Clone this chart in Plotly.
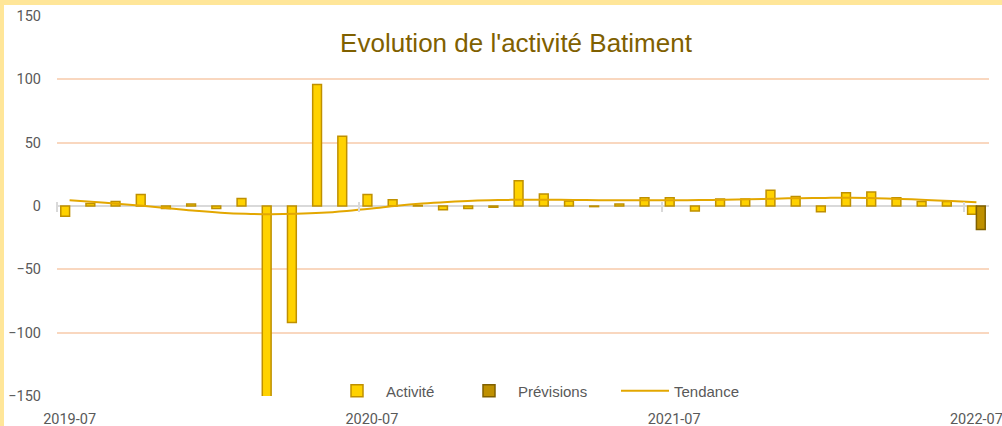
import plotly.graph_objects as go

# Monthly building-activity index variation (Jul 2019 - Jul 2022)
months = [
    "2019-07", "2019-08", "2019-09", "2019-10", "2019-11", "2019-12",
    "2020-01", "2020-02", "2020-03", "2020-04", "2020-05", "2020-06",
    "2020-07", "2020-08", "2020-09", "2020-10", "2020-11", "2020-12",
    "2021-01", "2021-02", "2021-03", "2021-04", "2021-05", "2021-06",
    "2021-07", "2021-08", "2021-09", "2021-10", "2021-11", "2021-12",
    "2022-01", "2022-02", "2022-03", "2022-04", "2022-05", "2022-06",
    "2022-07",
]
activite = [
    -8, 2, 3.5, 9, -2, 1.5, -2, 6, -152, -92, 96, 55,
    9, 5, 0.5, -3, -2, -1, 20, 9.5, 4, -0.5, 1.5, 6.5,
    6.5, -4, 5.5, 5.5, 12.5, 7.5, -4.5, 10.5, 11, 6.5, 3.5, 3.5,
    -6.5,
]
previsions = [None] * 36 + [-18.5]
tendance = [
    4.5, 3.1, 1.6, 0.0, -1.9, -3.8, -5.3, -6.2, -6.5, -6.2, -5.4, -3.9,
    -2.0, 0.2, 1.9, 3.2, 4.2, 4.7, 4.9, 4.9, 4.8, 4.6, 4.5, 4.5,
    4.5, 4.7, 5.0, 5.4, 5.8, 6.2, 6.4, 6.5, 6.2, 5.6, 4.8, 3.9,
    2.9,
]
y_ticks = [-150, -100, -50, 0, 50, 100, 150]

W, H = 1002, 426
L, R, T, B = 57, 13, 16, 30
pw, ph = W - L - R, H - T - B

label_font = dict(family="Roboto", size=14.5, color="#595959")
legend_font = dict(family="Liberation Sans", size=15, color="#595959")

fig = go.Figure()
fig.add_trace(go.Bar(
    x=months, y=activite, name="Activité", legend="legend",
    marker=dict(color="#FFD200", line=dict(color="#BF9000", width=1.5)),
))
fig.add_trace(go.Bar(
    x=months, y=previsions, name="Prévisions", legend="legend2",
    marker=dict(color="#BF9000", line=dict(color="#806000", width=1.5)),
))
fig.add_trace(go.Scatter(
    x=list(range(len(months))), y=tendance, name="Tendance", legend="legend3",
    mode="lines", line=dict(color="#E3A700", width=2, shape="spline"),
    xaxis="x2",
))


def legend_at(text_left_px):
    # one legend box per series, placed so its label starts at text_left_px
    return dict(
        orientation="h", x=(text_left_px - 60 - L) / pw, xanchor="left",
        y=(H - B - 391) / ph, yanchor="middle", bgcolor="rgba(0,0,0,0)",
        font=legend_font, itemwidth=48,
    )


n = len(months)
fig.update_layout(
    width=W, height=H,
    margin=dict(l=L, r=R, t=T, b=B, pad=0, autoexpand=False),
    paper_bgcolor="#FFE699",
    plot_bgcolor="rgba(0,0,0,0)",
    barmode="group", bargap=0.3, bargroupgap=0,
    title=dict(
        text="Evolution de l'activité Batiment",
        font=dict(family="Liberation Sans", size=26, color="#7F6000"),
        x=(516 - L) / pw, xref="paper", xanchor="center",
        y=1 - 43 / H, yref="container", yanchor="middle",
        automargin=False,
    ),
    xaxis=dict(
        type="category", categoryorder="array", categoryarray=months,
        range=[-0.5, n - 0.5], tickmode="linear", tick0=0, dtick=12,
        ticks="", showgrid=False, showline=False, zeroline=False,
        tickfont=label_font, ticklabelstandoff=12, automargin=False,
    ),
    xaxis2=dict(
        overlaying="x", anchor="free", position=(150 + 4) / 300,
        range=[-0.5, n - 0.5],
        tickmode="array", tickvals=[-0.5, 11.5, 23.5, 35.5],
        ticks="outside", ticklen=10, tickwidth=1.5, tickcolor="#D9D9D9",
        showticklabels=False, showgrid=False, showline=False, zeroline=False,
        automargin=False,
    ),
    yaxis=dict(
        range=[-150, 150], tickmode="array", tickvals=y_ticks,
        showgrid=True, gridcolor="#F9D7BF", gridwidth=1.5,
        zeroline=True, zerolinecolor="#D9D9D9", zerolinewidth=2,
        showline=False, ticks="", tickfont=label_font, ticklabelstandoff=15,
        automargin=False,
    ),
    legend=legend_at(388),
    legend2=legend_at(520),
    legend3=legend_at(676),
    showlegend=True,
    shapes=[dict(
        type="rect", xref="paper", yref="paper", layer="below",
        x0=(4 - L) / pw, x1=1.2, y0=-0.3, y1=(H - B - 5) / ph,
        fillcolor="white", line=dict(width=0),
    )],
)

fig.write_html("out.html")
